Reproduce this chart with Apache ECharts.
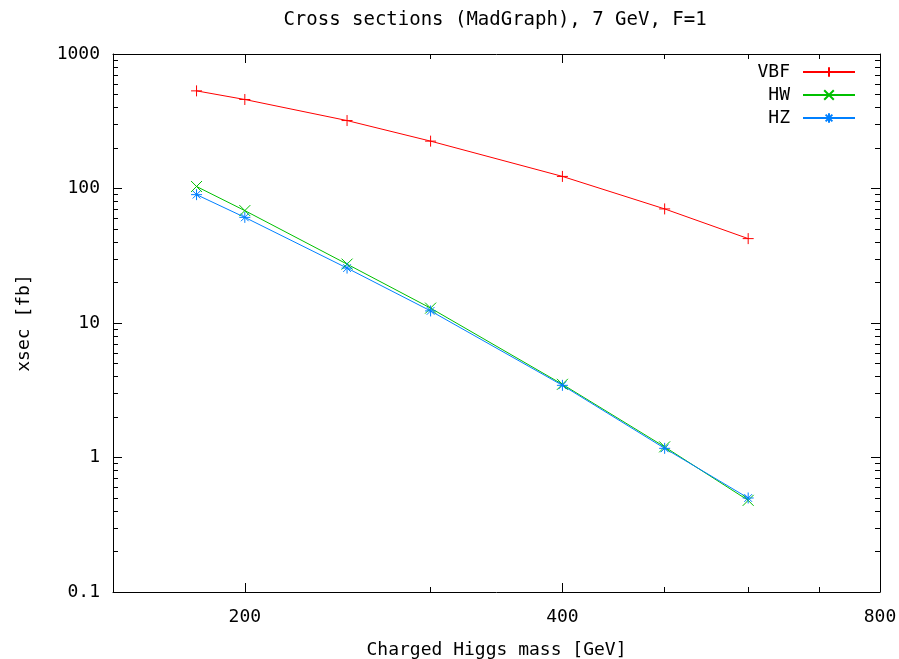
<!DOCTYPE html>
<html>
<head>
<meta charset="utf-8">
<title>Cross sections (MadGraph), 7 GeV, F=1</title>
<script src="https://cdn.jsdelivr.net/npm/echarts@6/dist/echarts.min.js"></script>
<style>
    html, body {
        margin: 0;
        padding: 0;
        background: #fff;
    }
    #xsec-chart {
        width: 899px;
        height: 659px;
    }
</style>
</head>
<body>
<div id="xsec-chart"></div>
<script>
    // charged Higgs mass [GeV]
    var masses = [180, 200, 250, 300, 400, 500, 600];
    // cross sections [fb]
    var vbf = [532, 459, 320, 225, 123, 70.5, 42.4];
    var hw = [103.5, 68.5, 27.4, 12.9, 3.5, 1.2, 0.48];
    var hz = [90, 61, 25.6, 12.3, 3.44, 1.17, 0.5];

    // tick marks like gnuplot draws them
    var xMajorTicks = [200, 400, 800];
    var xMinorTicks = [300, 500, 600, 700];
    var yMajorTicks = [0.1, 1, 10, 100, 1000];
    var yMinorTicks = [0.2, 0.3, 0.4, 0.5, 0.6, 0.7, 0.8, 0.9,
        2, 3, 4, 5, 6, 7, 8, 9,
        20, 30, 40, 50, 60, 70, 80, 90,
        200, 300, 400, 500, 600, 700, 800, 900];

    var FONT = 'DejaVu Sans Mono';

    // gnuplot symbols: + , x , *
    var symPlus = 'path://M0,5L10,5M5,0L5,10';
    var symCross = 'path://M0,0L10,10M10,0L0,10';
    var symStar = 'path://M0,5L10,5M5,0L5,10M1.5,1.5L8.5,8.5M8.5,1.5L1.5,8.5';

    function pairs(ys) {
        return masses.map(function (m, i) { return [m, ys[i]]; });
    }

    function xAxisOf(position, ticks, len, main) {
        return {
            type: 'log',
            position: position,
            min: 150,
            max: 800,
            name: main && position === 'bottom' ? 'Charged Higgs mass [GeV]' : '',
            nameLocation: 'middle',
            nameGap: 49,
            nameTextStyle: {color: '#000', fontFamily: FONT, fontSize: 18},
            axisLine: {show: main, onZero: false, lineStyle: {color: '#000', width: 1}},
            axisTick: {show: true, inside: true, length: len, customValues: ticks, lineStyle: {color: '#000'}},
            axisLabel: {
                show: main && position === 'bottom',
                customValues: ticks,
                margin: 16,
                color: '#000',
                fontFamily: FONT,
                fontSize: 18
            },
            splitLine: {show: false},
            minorTick: {show: false}
        };
    }

    function yAxisOf(position, ticks, len, main) {
        return {
            type: 'log',
            position: position,
            min: 0.1,
            max: 1000,
            name: main && position === 'left' ? 'xsec [fb]' : '',
            nameLocation: 'middle',
            nameGap: 80,
            nameTextStyle: {color: '#000', fontFamily: FONT, fontSize: 18},
            axisLine: {show: main, onZero: false, lineStyle: {color: '#000', width: 1}},
            axisTick: {show: true, inside: true, length: len, customValues: ticks, lineStyle: {color: '#000'}},
            axisLabel: {
                show: main && position === 'left',
                customValues: ticks,
                margin: 13,
                color: '#000',
                fontFamily: FONT,
                fontSize: 18,
                formatter: function (v) { return String(v); }
            },
            splitLine: {show: false},
            minorTick: {show: false}
        };
    }

    function lineSeries(name, ys, color, symbol) {
        return {
            name: name,
            type: 'line',
            xAxisIndex: 0,
            yAxisIndex: 0,
            data: pairs(ys),
            symbol: symbol,
            symbolSize: 11,
            showAllSymbol: true,
            lineStyle: {color: color, width: 1},
            itemStyle: {color: color, borderColor: color, borderWidth: 1},
            emphasis: {disabled: true}
        };
    }

    var chart = echarts.init(document.getElementById('xsec-chart'));
    chart.setOption({
        animation: false,
        backgroundColor: '#fff',
        title: {
            text: 'Cross sections (MadGraph), 7 GeV, F=1',
            left: 490,
            textAlign: 'center',
            top: 6,
            textStyle: {color: '#000', fontFamily: FONT, fontSize: 19, fontWeight: 'normal'}
        },
        legend: {
            orient: 'vertical',
            right: 38,
            top: 58,
            align: 'right',
            itemWidth: 52,
            itemHeight: 12,
            itemGap: 5,
            selectedMode: false,
            textStyle: {color: '#000', fontFamily: FONT, fontSize: 18, padding: [0, 8, 0, 0]},
            data: ['VBF', 'HW', 'HZ']
        },
        grid: {
            left: 113,
            right: 19,
            top: 54,
            bottom: 67,
            // keep the plot box where it is, labels may sit near the edge
            outerBoundsMode: 'none',
            containLabel: false
        },
        xAxis: [
            xAxisOf('bottom', xMajorTicks, 9, true),
            xAxisOf('bottom', xMinorTicks, 5, false),
            xAxisOf('top', xMajorTicks, 9, true),
            xAxisOf('top', xMinorTicks, 5, false)
        ],
        yAxis: [
            yAxisOf('left', yMajorTicks, 9, true),
            yAxisOf('left', yMinorTicks, 5, false),
            yAxisOf('right', yMajorTicks, 9, true),
            yAxisOf('right', yMinorTicks, 5, false)
        ],
        series: [
            lineSeries('VBF', vbf, '#ff0000', symPlus),
            lineSeries('HW', hw, '#00c000', symCross),
            lineSeries('HZ', hz, '#0080ff', symStar)
        ]
    });
</script>
</body>
</html>
